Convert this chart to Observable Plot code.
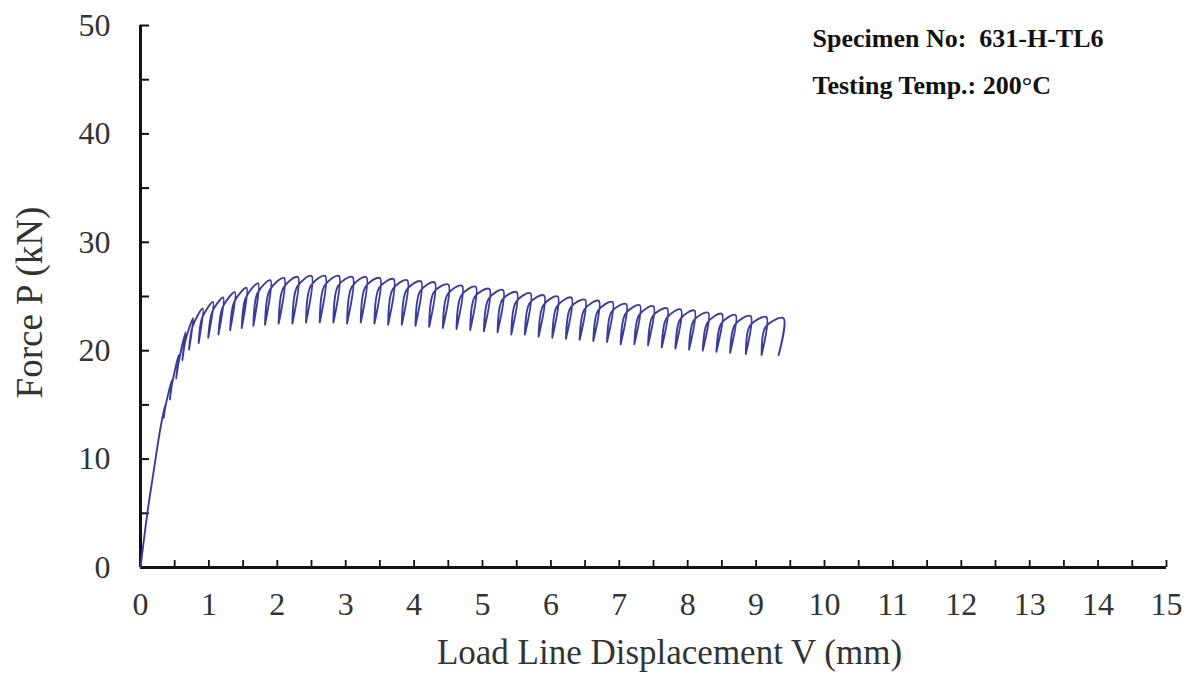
<!DOCTYPE html>
<html>
<head>
<meta charset="utf-8">
<script src="https://cdn.jsdelivr.net/npm/d3@7"></script>
<script src="https://cdn.jsdelivr.net/npm/@observablehq/plot@0.6"></script>
<style>
  html, body { margin: 0; padding: 0; background: #fff; }
  #chart { width: 1186px; height: 686px; }
  #chart svg text { white-space: pre; }
</style>
</head>
<body>
<div id="chart"></div>
<script>
// Initial elastic loading (displacement mm, force kN)
const loadV = [0, 0.1, 0.2, 0.29];
const loadP = [0, 5.0, 9.2, 12.8];

// Peak of each unloading cycle
const peakV = [0.36,0.46,0.56,0.66,0.77,0.91,1.06,1.21,1.38,1.55,1.72,1.90,2.10,2.30,2.50,2.70,2.90,3.10,3.30,3.50,3.70,3.90,4.10,4.30,4.50,4.70,4.90,5.10,5.30,5.50,5.70,5.90,6.10,6.30,6.50,6.70,6.90,7.10,7.30,7.50,7.70,7.90,8.10,8.30,8.50,8.70,8.92,9.15,9.40];
const peakP = [15.0,17.3,19.6,21.7,23.0,23.9,24.5,24.9,25.4,25.8,26.2,26.5,26.7,26.8,26.9,26.9,26.9,26.8,26.8,26.7,26.6,26.5,26.4,26.3,26.1,26.0,25.9,25.7,25.6,25.4,25.3,25.1,25.0,24.9,24.7,24.6,24.5,24.3,24.2,24.1,23.9,23.8,23.7,23.5,23.4,23.3,23.2,23.1,23.0];

// Bottom of each unloading line
const valleyV = [0.34,0.43,0.52,0.61,0.71,0.85,0.99,1.14,1.31,1.48,1.65,1.82,2.02,2.22,2.42,2.62,2.82,3.02,3.22,3.42,3.62,3.82,4.02,4.22,4.42,4.62,4.82,5.02,5.22,5.42,5.62,5.82,6.02,6.22,6.42,6.62,6.82,7.02,7.22,7.42,7.62,7.82,8.02,8.22,8.42,8.62,8.85,9.08,9.33];
const valleyP = [13.8,15.5,17.4,19.1,20.1,20.7,21.2,21.5,21.9,22.1,22.3,22.4,22.5,22.5,22.6,22.6,22.6,22.5,22.6,22.5,22.4,22.4,22.3,22.2,22.1,22.0,21.9,21.8,21.7,21.5,21.5,21.3,21.2,21.1,21.0,20.9,20.8,20.6,20.6,20.5,20.3,20.2,20.1,20.0,19.9,19.8,19.7,19.6,19.6];

// Point on each reload line where it starts to bend over
const kneeV = [0.36,0.46,0.56,0.66,0.76,0.90,1.05,1.20,1.37,1.54,1.71,1.89,2.09,2.29,2.49,2.69,2.89,3.09,3.29,3.49,3.69,3.89,4.09,4.29,4.49,4.69,4.89,5.09,5.29,5.49,5.69,5.89,6.09,6.29,6.49,6.69,6.89,7.09,7.29,7.49,7.69,7.89,8.09,8.29,8.49,8.69,8.91,9.14];
const kneeP = [14.7,16.9,19.0,21.0,22.2,23.0,23.6,24.0,24.5,24.9,25.3,25.6,25.8,25.9,26.0,26.0,26.0,25.9,25.9,25.8,25.7,25.6,25.5,25.4,25.2,25.1,25.0,24.8,24.7,24.5,24.4,24.2,24.1,24.0,23.8,23.7,23.6,23.4,23.3,23.2,23.0,22.9,22.8,22.6,22.5,22.4,22.3,22.2];

// Axis ticks
const xTicks = [0,0.5,1,1.5,2,2.5,3,3.5,4,4.5,5,5.5,6,6.5,7,7.5,8,8.5,9,9.5,10,10.5,11,11.5,12,12.5,13,13.5,14,14.5,15];
const xLabels = [0,1,2,3,4,5,6,7,8,9,10,11,12,13,14,15];
const yTicks = [0,5,10,15,20,25,30,35,40,45,50];
const yLabels = [0,10,20,30,40,50];

const xTitle = "Load Line Displacement V (mm)";
const yTitle = "Force P (kN)";
const notes = ["Specimen No:  631-H-TL6", "Testing Temp.: 200°C"];

// Build the path
const path = [];
loadV.forEach((v, i) => path.push({v, p: loadP[i]}));
peakV.forEach((v, i) => {
  path.push({v, p: peakP[i]});
  path.push({v: valleyV[i], p: valleyP[i]});
  if (i < kneeV.length) path.push({v: kneeV[i], p: kneeP[i]});
});

const serif = "'Liberation Serif', 'Times New Roman', serif";

const chart = Plot.plot({
  width: 1186,
  height: 686,
  marginLeft: 140,
  marginRight: 20,
  marginTop: 25,
  marginBottom: 119,
  x: {domain: [0, 15]},
  y: {domain: [0, 50]},
  style: {fontFamily: serif, background: "#fff", color: "#000", overflow: "visible"},
  marks: [
    // tick marks pointing inward
    Plot.axisX(xTicks, {tickSize: -7, tickFormat: () => "", label: null, strokeWidth: 1.8, stroke: "#111"}),
    Plot.axisY(yTicks, {tickSize: -9, tickFormat: () => "", label: null, strokeWidth: 2, stroke: "#111"}),
    // labels
    Plot.axisX(xLabels, {tickSize: 0, tickPadding: 25, fontSize: 32, fill: "#333", tickFormat: d => String(d), label: null}),
    Plot.axisY(yLabels, {tickSize: 0, tickPadding: 30, fontSize: 32, fill: "#333", tickFormat: d => String(d), label: null}),
    // axis lines
    Plot.ruleY([0], {stroke: "#111", strokeWidth: 3}),
    Plot.ruleX([0], {stroke: "#111", strokeWidth: 3}),
    // curve
    Plot.line(path, {x: "v", y: "p", curve: "catmull-rom", stroke: "#3b3b9c", strokeWidth: 1.9}),
    // titles
    Plot.text([xTitle], {frameAnchor: "bottom", dx: 16, dy: 96, fontSize: 35, fill: "#333", text: d => d}),
    Plot.text([yTitle], {frameAnchor: "left", dx: -110, dy: 6, rotate: -90, textAnchor: "middle", fontSize: 37, fill: "#333", text: d => d}),
    Plot.text([notes[0]], {frameAnchor: "top-left", dx: 672, dy: 13, textAnchor: "start", lineAnchor: "middle", fontSize: 26, fontWeight: "bold", fill: "#111", text: d => d}),
    Plot.text([notes[1]], {frameAnchor: "top-left", dx: 672, dy: 60, textAnchor: "start", lineAnchor: "middle", fontSize: 26, fontWeight: "bold", fill: "#111", text: d => d})
  ]
});
document.getElementById("chart").appendChild(chart);
</script>
</body>
</html>
